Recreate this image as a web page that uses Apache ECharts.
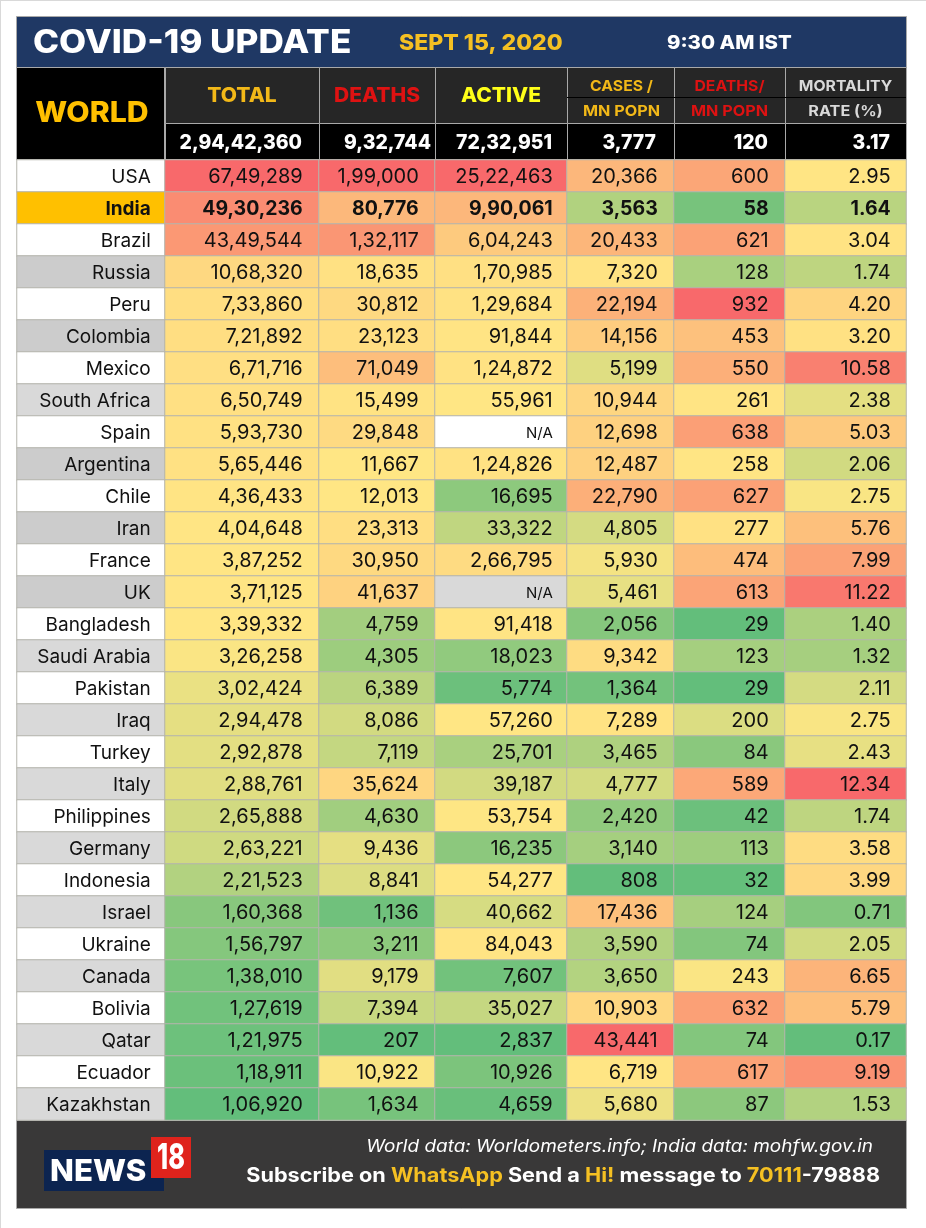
<![CDATA[<!DOCTYPE html>
<html><head><meta charset="utf-8">
<style>html,body{margin:0;padding:0;background:#fff}#c{width:926px;height:1228px}</style>
<script src="https://cdn.jsdelivr.net/npm/echarts@6/dist/echarts.min.js"></script>
</head><body><div id="c"></div>
<script>
const countries=["USA","India","Brazil","Russia","Peru","Colombia","Mexico","South Africa","Spain","Argentina","Chile","Iran","France","UK","Bangladesh","Saudi Arabia","Pakistan","Iraq","Turkey","Italy","Philippines","Germany","Indonesia","Israel","Ukraine","Canada","Bolivia","Qatar","Ecuador","Kazakhstan"];
const total=[6749289,4930236,4349544,1068320,733860,721892,671716,650749,593730,565446,436433,404648,387252,371125,339332,326258,302424,294478,292878,288761,265888,263221,221523,160368,156797,138010,127619,121975,118911,106920];
const deaths=[199000,80776,132117,18635,30812,23123,71049,15499,29848,11667,12013,23313,30950,41637,4759,4305,6389,8086,7119,35624,4630,9436,8841,1136,3211,9179,7394,207,10922,1634];
const active=[2522463,990061,604243,170985,129684,91844,124872,55961,null,124826,16695,33322,266795,null,91418,18023,5774,57260,25701,39187,53754,16235,54277,40662,84043,7607,35027,2837,10926,4659];
const casesPerMn=[20366,3563,20433,7320,22194,14156,5199,10944,12698,12487,22790,4805,5930,5461,2056,9342,1364,7289,3465,4777,2420,3140,808,17436,3590,3650,10903,43441,6719,5680];
const deathsPerMn=[600,58,621,128,932,453,550,261,638,258,627,277,474,613,29,123,29,200,84,589,42,113,32,124,74,243,632,74,617,87];
const mortality=[2.95,1.64,3.04,1.74,4.20,3.20,10.58,2.38,5.03,2.06,2.75,5.76,7.99,11.22,1.40,1.32,2.11,2.75,2.43,12.34,1.74,3.58,3.99,0.71,2.05,6.65,5.79,0.17,9.19,1.53];
const worldTotals=["2,94,42,360","9,32,744","72,32,951","3,777","120","3.17"];

const FONT='Inter';
const edges=[17,165,319,435,567,674,785,906];
const pads=[15,17,17,15,17,17,16];
const totalRight=[302,431,552,656,768,890];
const TOP=160,ROW=32,BOTTOM=1120;
const LOW=[0x63,0xBE,0x7B],MID=[0xFF,0xE6,0x84],HIGH=[0xF8,0x69,0x6B];
function mix(a,b,t){return 'rgb('+a.map((v,i)=>Math.round(v+(b[i]-v)*t)).join(',')+')';}
function scale(arr){
  const s=arr.filter(v=>v!=null).sort((a,b)=>a-b);
  const n=s.length,min=s[0],max=s[n-1];
  const med=n%2?s[(n-1)/2]:(s[n/2-1]+s[n/2])/2;
  return v=>v<=med?mix(LOW,MID,(v-min)/(med-min)):mix(MID,HIGH,(v-med)/(max-med));
}
function indian(n){
  const s=String(n);if(s.length<=3)return s;
  const last=s.slice(-3);let rest=s.slice(0,-3),out=[];
  while(rest.length>2){out.unshift(rest.slice(-2));rest=rest.slice(0,-2);}
  if(rest)out.unshift(rest);
  return out.join(',')+','+last;
}
const columns=[total,deaths,active,casesPerMn,deathsPerMn,mortality];
const grids=[],xAxes=[],yAxes=[],series=[];
function addCol(k,data){
  grids.push({left:edges[k],width:edges[k+1]-edges[k],top:TOP,height:BOTTOM-TOP,containLabel:false});
  xAxes.push({type:'category',gridIndex:k,data:[''],show:false});
  yAxes.push({type:'category',gridIndex:k,data:countries,inverse:true,show:false});
  series.push({type:'heatmap',xAxisIndex:k,yAxisIndex:k,data:data,silent:true,animation:false,
    itemStyle:{borderColor:'#b4b4ac',borderWidth:1},
    label:{show:true,position:'insideRight',distance:pads[k],offset:[0,1],color:'#111',fontFamily:FONT,fontSize:20,fontWeight:400,formatter:p=>p.name}});
}
addCol(0,countries.map((c,i)=>({name:c,value:[0,i,i],
  itemStyle:{color:i===1?'#FFC000':(i>2&&i%2===1?((i<14&&i!==7)?'#CCCCCC':'#D9D9D9'):'#FFFFFF')},
  label:{fontSize:19,fontWeight:i===1?700:400}})));
columns.forEach((arr,c)=>{
  const col=scale(arr),dec=c===5;
  addCol(c+1,arr.map((v,i)=>{
    if(v==null)return {name:'N/A',value:[0,i,0],itemStyle:{color:i===13?'#D9D9D9':'#FFFFFF'},label:{fontSize:15}};
    return {name:dec?v.toFixed(2):indian(v),value:[0,i,v],itemStyle:{color:col(v)},label:i===1?{fontWeight:700,fontSize:19.5}:{}};
  }));
});

const rect=(x,y,w,h,fill,stroke)=>({type:'rect',shape:{x,y,width:w,height:h},style:{fill,stroke:stroke||null,lineWidth:stroke?1:0},silent:true});
const text=(x,y,t,size,fill,weight,align,sx,extra)=>({type:'text',x,y,scaleX:sx||1,silent:true,style:Object.assign({text:t,fill,fontSize:size,fontWeight:weight||700,fontFamily:FONT,align:align||'center',verticalAlign:'middle'},extra||{})});
const LINE='#a9a9a9';
const g=[];
g.push(rect(0,0,926,1,'#d9d9d9'),rect(0,0,1,1228,'#d9d9d9'));
g.push(rect(16.5,16.5,890,51,'#1F3864',LINE));
g.push(text(33,43,'COVID-19 UPDATE',32,'#fff',800,'left',1.097));
g.push(text(399,43,'SEPT 15, 2020',22,'#F5C022',800,'left',1.045));
g.push(text(667,43,'9:30 AM IST',19,'#fff',800,'left',1.07));
g.push(rect(16.5,67.5,148,92,'#000',LINE));
g.push(text(92,114,'WORLD',28,'#FFC000',800,'center',1.08));
for(let i=1;i<7;i++){
  const x=edges[i]+.5,w=edges[i+1]-edges[i];
  g.push(rect(x,67.5,w,56,'#262626',LINE));
  g.push(rect(x,123.5,w,36,'#000',LINE));
  g.push(text(totalRight[i-1],143,worldTotals[i-1],20,'#fff',800,'right',0.97));
}
const hdr=[['TOTAL','#F2B818'],['DEATHS','#DE1212'],['ACTIVE','#FFFF19']];
hdr.forEach((h,i)=>g.push(text((edges[i+1]+edges[i+2])/2,96,h[0],20,h[1],800,'center',1.05)));
const hdr2=[['CASES /','MN POPN','#F2B818'],['DEATHS/','MN POPN','#DE1212'],['MORTALITY','RATE (%)','#D9D9D9']];
hdr2.forEach((h,i)=>{
  const cx=(edges[i+4]+edges[i+5])/2+(i===0?1:0);
  g.push(text(cx,86,h[0],15,h[2],700,'center',1.05),text(cx,111,h[1],15,h[2],700,'center',1.08));
});
g.push(rect(567,97,339,1,'#000'));
// footer
g.push(rect(16.5,1120.5,890,88,'#393838',LINE));
g.push(text(873,1147,'World data: Worldometers.info; India data: mohfw.gov.in',17,'#fff',400,'right',1.115,{fontStyle:'italic'}));
g.push({type:'text',x:880,y:1176,scaleX:1.083,silent:true,style:{align:'right',verticalAlign:'middle',
  text:'{w|Subscribe on }{y|WhatsApp}{w| Send a }{y|Hi!}{w| message to }{y|70111}{w|-79888}',
  rich:{w:{fill:'#fff',fontSize:20,fontWeight:700,fontFamily:FONT},y:{fill:'#F5C022',fontSize:20,fontWeight:700,fontFamily:FONT}}}});
g.push(rect(44,1150,120,41,'#0C2450'));
g.push(text(50,1172,'NEWS',30,'#fff',800,'left',1.04));
g.push(rect(151,1137,40,41,'#DF231C'));
g.push(text(171,1158,'18',36,'#fff',800,'center',0.7));

const chart=echarts.init(document.getElementById('c'),null,{renderer:'canvas'});
chart.setOption({animation:false,backgroundColor:'#fff',grid:grids,xAxis:xAxes,yAxis:yAxes,series:series,graphic:{elements:g}});
</script></body></html>]]>
